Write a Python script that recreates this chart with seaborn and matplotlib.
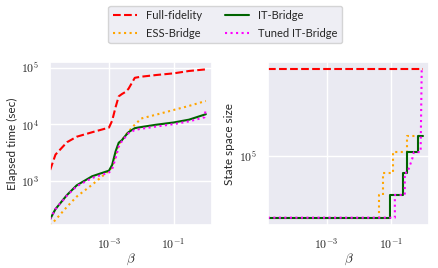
import numpy as np
import pandas as pd
import matplotlib
matplotlib.use('Agg')
import matplotlib.pyplot as plt
from matplotlib.ticker import FuncFormatter
import seaborn as sns

# elapsed time vs beta (left panel)
beta = [1.5e-5, 2.2e-5, 5e-5, 1e-4, 3e-4, 1e-3, 1.25e-3, 1.6e-3, 2e-3,
        2.5e-3, 3.2e-3, 4e-3, 6.3e-3, 1e-2, 3e-2, 0.1, 0.3, 1.0]
time_full = [1550, 2900, 4800, 6000, 7200, 8700, 11500, 20000, 31000,
             34000, 37000, 42000, 66000, 69000, 74000, 79000, 87000, 93000]
time_ess = [162, 204, 347, 525, 850, 1510, 1740, 2800, 4400,
            5200, 6300, 7400, 9800, 12600, 14800, 17800, 21000, 25700]
time_it = [210, 316, 560, 830, 1200, 1510, 1900, 3300, 4700,
           5200, 6200, 7200, 8500, 8900, 9800, 10700, 12000, 15000]
beta_tuned = [1.5e-5, 2.2e-5, 5e-5, 1e-4, 3e-4, 1e-3, 1.25e-3, 1.6e-3, 2e-3,
              2.5e-3, 3.2e-3, 4e-3, 6.3e-3, 1e-2, 3e-2, 0.1, 0.3, 0.9, 1.0]
time_tuned = [210, 316, 550, 800, 1120, 1400, 1600, 2500, 4000,
              5000, 5900, 6900, 7900, 8300, 9100, 10000, 11200, 13200, 18600]

# state space size vs beta (right panel)
beta_full_ss = [1.45e-5, 1.0]
size_full = [416000, 416000]
beta_ess_ss = [1.45e-5, 0.044, 0.056, 0.12, 0.32, 1.0]
size_ess = [36000, 52400, 75600, 106200, 137800, 137800]
beta_it_ss = [1.45e-5, 0.095, 0.245, 0.33, 0.72, 1.0]
size_it = [36000, 52400, 75600, 106200, 137800, 137800]
beta_tuned_ss = [1.45e-5, 0.135, 0.135, 0.275, 0.275, 0.33, 0.47, 0.53, 0.86, 0.93, 1.0]
size_tuned = [36000, 36000, 52400, 52400, 75600, 75600, 95000, 106200, 106200, 416000, 416000]

sns.set_theme(style='darkgrid')
plt.rcParams['font.family'] = ['Lato', 'DejaVu Sans']
plt.rcParams['mathtext.fontset'] = 'cm'

fig = plt.figure(figsize=(4.38, 2.68), dpi=100)
ax1 = fig.add_axes([0.114, 0.160, 0.370, 0.609])
ax2 = fig.add_axes([0.612, 0.160, 0.367, 0.609])

styles = {'Full-fidelity': dict(color='red', linestyle='--'),
          'ESS-Bridge': dict(color='orange', linestyle=':'),
          'IT-Bridge': dict(color='darkgreen', linestyle='-'),
          'Tuned IT-Bridge': dict(color='magenta', linestyle=':')}

left = [('Full-fidelity', beta, time_full), ('ESS-Bridge', beta, time_ess),
        ('IT-Bridge', beta, time_it), ('Tuned IT-Bridge', beta_tuned, time_tuned)]
for name, x, y in left:
    sns.lineplot(x=x, y=y, ax=ax1, estimator=None, sort=False, label=name,
                 lw=1.5, **styles[name])

right = [('Full-fidelity', beta_full_ss, size_full), ('ESS-Bridge', beta_ess_ss, size_ess),
         ('IT-Bridge', beta_it_ss, size_it), ('Tuned IT-Bridge', beta_tuned_ss, size_tuned)]
for name, x, y in right:
    ds = 'default' if name == 'Tuned IT-Bridge' else 'steps-post'
    sns.lineplot(x=x, y=y, ax=ax2, estimator=None, sort=False, lw=1.5,
                 drawstyle=ds, legend=False, **styles[name])

pow10 = FuncFormatter(lambda v, p: r'$10^{%d}$' % round(np.log10(v)))

for ax in (ax1, ax2):
    ax.set_xscale('log')
    ax.set_yscale('log')
    ax.set_xlim(10 ** -4.83, 10 ** 0.19)
    ax.set_xticks([1e-3, 1e-1])
    ax.xaxis.set_major_formatter(pow10)
    ax.yaxis.set_major_formatter(pow10)
    ax.set_xlabel(r'$\beta$', fontsize=9.5, labelpad=0)
    ax.tick_params(labelsize=8.5, pad=2)
    ax.minorticks_off()

ax1.set_ylim(10 ** 2.216, 10 ** 5.1)
ax1.set_yticks([1e3, 1e4, 1e5])
ax1.set_ylabel('Elapsed time (sec)', fontsize=8.5, labelpad=2)
ax2.set_yticks([1e5])
ax2.set_ylabel('State space size', fontsize=8.5, labelpad=3)

handles, labels = ax1.get_legend_handles_labels()
ax1.get_legend().remove()
fig.legend(handles, labels,
           loc='upper center', bbox_to_anchor=(0.514, 1.0), ncol=2, fontsize=8,
           handlelength=2.2, columnspacing=2.0, labelspacing=0.6, frameon=True)

fig.savefig('out.png', dpi=100)
